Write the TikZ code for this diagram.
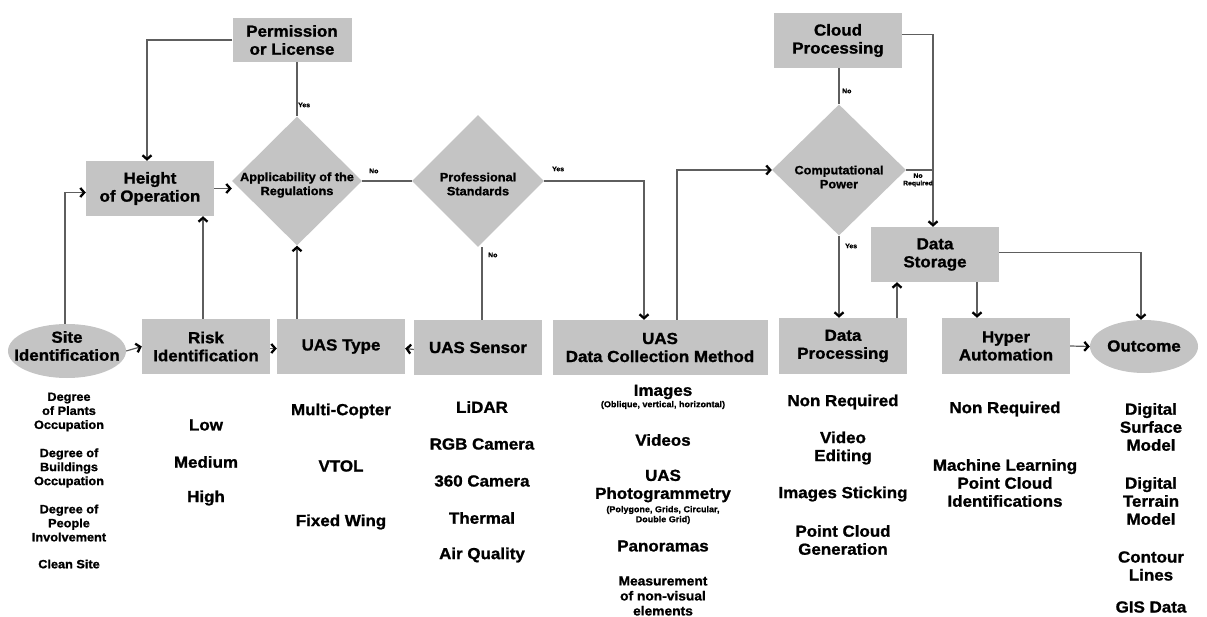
\documentclass[tikz,border=0pt]{standalone}
\usepackage{fontspec}
\setmainfont{Liberation Sans}[FakeStretch=1.06, BoldFeatures={FakeBold=1.2}]
\usetikzlibrary{arrows.meta,shapes.geometric}
\definecolor{boxgray}{HTML}{C4C4C4}
\definecolor{linegray}{HTML}{5E5E5E}
\tikzset{
 box/.style={fill=boxgray, draw=none, minimum width=128pt, minimum height=55pt, inner sep=0pt, align=center, font=\bfseries\fontsize{16}{18}\selectfont},
 ell/.style={ellipse, fill=boxgray, draw=none, inner sep=0pt},
 dia/.style={diamond, fill=boxgray, draw=none, inner sep=0pt},
 dtext/.style={align=center, inner sep=0pt, font=\bfseries\fontsize{12}{14}\selectfont},
 btext/.style={align=center, inner sep=0pt, font=\bfseries\fontsize{16}{18}\selectfont},
 item/.style={align=center, inner sep=0pt, font=\bfseries\fontsize{16}{18}\selectfont},
 smallitem/.style={align=center, inner sep=0pt, font=\bfseries\fontsize{12}{14}\selectfont},
 midsmall/.style={align=center, inner sep=0pt, font=\bfseries\fontsize{13}{15}\selectfont},
 tinyitem/.style={align=center, inner sep=0pt, font=\bfseries\fontsize{8.5}{10}\selectfont},
 lbl/.style={align=left, inner sep=0pt, font=\bfseries\fontsize{6.5}{7.5}\selectfont},
 conn/.style={draw=linegray, line width=1.2pt},
 arr/.style={conn, -{Straight Barb[length=4pt, width=9pt, line width=2.3pt, color=black]}},
}
\begin{document}
\begin{tikzpicture}[x=1pt,y=-1pt]
\useasboundingbox (0,0) rectangle (1207,617);
% ---- top / middle nodes
\node[box, minimum width=119pt, minimum height=44pt] (perm) at (292,40) {Permission\\or License};
\node[box] (height) at (150,188.5) {Height\\of Operation};
\node[box] (cloud) at (838,40.5) {Cloud\\Processing};
\node[box] (storage) at (935,254.5) {Data\\Storage};
\node[dia, minimum width=130pt, minimum height=129pt] (app) at (297,181) {};
\node[dtext] (apptext) at (297,185) {Applicability of the\\Regulations};
\node[dia, minimum width=132pt, minimum height=132pt] (pro) at (478,181) {};
\node[dtext] (protext) at (478,184) {Professional\\Standards};
\node[dia, minimum width=134pt, minimum height=131pt] (comp) at (839,170) {};
\node[dtext] (comptext) at (839,177) {Computational\\Power};
% ---- bottom row
\node[ell, minimum width=118pt, minimum height=54pt] (site) at (67,351) {};
\node[btext] (sitetext) at (67,346) {Site\\Identification};
\node[box] (risk) at (206,346.5) {Risk\\Identification};
\node[box] (type) at (341,346.5) {UAS Type};
\node[box] (sensor) at (478,347.5) {UAS Sensor};
\node[box, minimum width=215pt] (dcm) at (660,347.5) {UAS\\Data Collection Method};
\node[box, minimum height=56pt] (proc) at (843,346) {Data\\Processing};
\node[box, minimum height=56pt] (hyper) at (1006,346) {Hyper\\Automation};
\node[ell, minimum width=108pt, minimum height=53pt] (outcome) at (1144,346.5) {};
\node[btext] (outtext) at (1144,346) {Outcome};
% ---- connectors
\draw[arr] (perm.west) -| ([xshift=-3pt]height.north);
\draw[conn] (app.north |- perm.south) -- (app.north);
\draw[arr] (height.east) -- (app.west |- height.east);
\draw[arr] ([xshift=-2pt]site.north) |- ([yshift=-4pt]height.west);
\draw[arr] ([xshift=-3pt]risk.north) -- ([xshift=-3pt]risk.north |- height.south);
\draw[arr] (type.north -| app.south) -- (app.south);
\draw[conn] (app.east) -- (pro.west);
\draw[arr] (pro.east) -| ([xshift=-16pt]dcm.north);
\draw[conn] ([xshift=4pt]pro.south) -- ([xshift=4pt]pro.south |- sensor.north);
\draw[arr] ([xshift=17pt]dcm.north) |- (comp.west);
\draw[conn] (comp.north |- cloud.south) -- (comp.north);
\draw[arr] ([yshift=6pt]cloud.east) -| ([xshift=-2pt]storage.north);
\draw[conn] (comp.east) -- ([xshift=-2pt]storage.north |- comp.east);
\draw[arr] (comp.south) -- (comp.south |- proc.north);
\draw[arr] ([xshift=54pt]proc.north) -- ([xshift=54pt]proc.north |- storage.south);
\draw[arr] ([xshift=42pt]storage.south) -- ([xshift=42pt]storage.south |- hyper.north);
\draw[arr] ([yshift=2pt]storage.east) -| ([xshift=-3pt]outcome.north);
\draw[arr] (hyper.east) -- (outcome.west);
\draw[arr] (site.east) -- (risk.west);
\draw[arr] ([yshift=-2pt]risk.east) -- ([yshift=-2pt]type.west);
\draw[arr] ([yshift=-2pt]sensor.west) -- ([yshift=-2pt]type.east);
% ---- connector labels
\node[lbl, anchor=west] (l1) at (298,105) {Yes};
\node[lbl, anchor=west] (l2) at (369,171) {No};
\node[lbl, anchor=west] (l3) at (552,169) {Yes};
\node[lbl, anchor=west] (l4) at (488,255) {No};
\node[lbl, anchor=west] (l5) at (842,91) {No};
\node[lbl, align=center] (l6) at (918,180) {No\\Required};
\node[lbl, anchor=west] (l7) at (845,246) {Yes};
% ---- site items
\node[smallitem] (s1) at (69,412) {Degree\\of Plants\\Occupation};
\node[smallitem] (s2) at (69,468) {Degree of\\Buildings\\Occupation};
\node[smallitem] (s3) at (69,523) {Degree of\\People\\Involvement};
\node[smallitem] (s4) at (69,564) {Clean Site};
% ---- risk items
\node[item] (r1) at (206,425) {Low};
\node[item] (r2) at (206,462) {Medium};
\node[item] (r3) at (206,498) {High};
% ---- type items
\node[item] (t1) at (341,411) {Multi-Copter};
\node[item] (t2) at (341,466) {VTOL};
\node[item] (t3) at (341,522) {Fixed Wing};
% ---- sensor items
\node[item] (e1) at (482,407) {LiDAR};
\node[item] (e2) at (482,444) {RGB Camera};
\node[item] (e3) at (482,481) {360 Camera};
\node[item] (e4) at (482,518) {Thermal};
\node[item] (e5) at (482,555) {Air Quality};
% ---- data collection items
\node[item] (d1) at (663,392) {Images};
\node[tinyitem] (d1b) at (663,405) {(Oblique, vertical, horizontal)};
\node[item] (d2) at (663,440) {Videos};
\node[item] (d3) at (663,486) {UAS\\Photogrammetry};
\node[tinyitem] (d3b) at (663,515) {(Polygone, Grids, Circular,\\Double Grid)};
\node[item] (d4) at (663,546) {Panoramas};
\node[midsmall] (d5) at (663,596) {Measurement\\of non-visual\\elements};
% ---- processing items
\node[item] (p1) at (843,402) {Non Required};
\node[item] (p2) at (843,448) {Video\\Editing};
\node[item] (p3) at (843,494) {Images Sticking};
\node[item] (p4) at (843,540) {Point Cloud\\Generation};
% ---- hyper items
\node[item] (h1) at (1005,409) {Non Required};
\node[item] (h2) at (1005,483) {Machine Learning\\Point Cloud\\Identifications};
% ---- outcome items
\node[item] (o1) at (1151,427) {Digital\\Surface\\Model};
\node[item] (o2) at (1151,501) {Digital\\Terrain\\Model};
\node[item] (o3) at (1151,566) {Contour\\Lines};
\node[item] (o4) at (1151,607) {GIS Data};
\end{tikzpicture}
\end{document}
